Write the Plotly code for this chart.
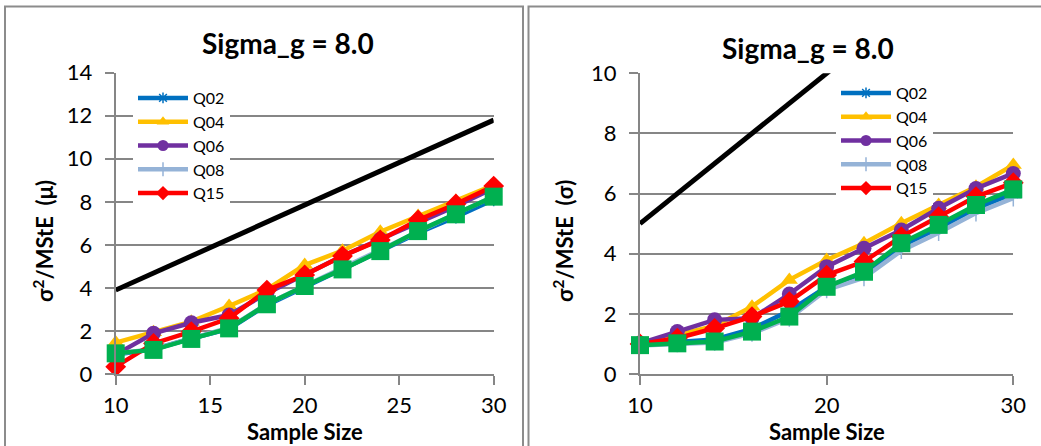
import plotly.graph_objects as go

W, H = 1041, 446

# Sample sizes shared by both panels
sample_size = [10, 12, 14, 16, 18, 20, 22, 24, 26, 28, 30]

# Panel 1: sigma^2 / MStE for the mean (mu)
mu_q02 = [0.90, 1.15, 1.65, 2.10, 3.20, 4.05, 4.85, 5.70, 6.55, 7.30, 8.10]
mu_q04 = [1.46, 1.94, 2.43, 3.16, 3.93, 5.06, 5.73, 6.61, 7.34, 8.04, 8.78]
mu_q06 = [0.90, 1.89, 2.38, 2.74, 3.75, 4.60, 5.48, 6.26, 7.03, 7.80, 8.63]
mu_q08 = [0.95, 1.15, 1.65, 2.15, 3.25, 4.10, 4.90, 5.75, 6.65, 7.45, 8.25]
mu_q15 = [0.34, 1.42, 1.97, 2.59, 3.90, 4.60, 5.48, 6.23, 7.16, 7.90, 8.73]
mu_extra = [0.96, 1.12, 1.63, 2.12, 3.24, 4.09, 4.86, 5.71, 6.64, 7.42, 8.24]
mu_ref = [3.90, 4.69, 5.48, 6.27, 7.06, 7.85, 8.64, 9.43, 10.22, 11.01, 11.80]

# Panel 2: sigma^2 / MStE for the standard deviation (sigma)
sd_q02 = [0.98, 1.05, 1.15, 1.50, 2.10, 2.90, 3.35, 4.25, 4.85, 5.50, 6.00]
sd_q04 = [1.00, 1.30, 1.60, 2.24, 3.13, 3.79, 4.35, 5.01, 5.62, 6.23, 6.95]
sd_q06 = [1.02, 1.41, 1.80, 1.85, 2.66, 3.57, 4.18, 4.79, 5.51, 6.17, 6.67]
sd_q08 = [0.95, 1.00, 1.05, 1.35, 1.85, 2.80, 3.20, 4.10, 4.70, 5.35, 5.85]
sd_q15 = [1.00, 1.19, 1.52, 1.91, 2.41, 3.29, 3.74, 4.57, 5.23, 5.90, 6.36]
sd_extra = [0.96, 1.02, 1.08, 1.41, 1.91, 2.90, 3.40, 4.35, 4.96, 5.62, 6.14]
sd_ref = [5.0, 6.0, 7.0, 8.0, 9.0, 10.0, 11.0, 12.0, 13.0, 14.0, 15.0]

FONT = "Lato"
GRID = "#868686"


def px(x):
    return x / W


def py(y):
    return 1 - y / H


# name, colour, marker symbol, marker size on the plot, marker size in legend
series_style = [
    ("Q02", "#0070C0", "asterisk-open", 11, 9),
    ("Q04", "#FFC000", "triangle-up", 15, 11),
    ("Q06", "#7030A0", "circle", 15, 11),
    ("Q08", "#95B3D7", "cross-thin-open", 12, 10),
    ("Q15", "#FF0000", "diamond", 16, 11),
]

fig = go.Figure()


def marker_for(color, symbol, size):
    open_sym = symbol.endswith("open")
    return dict(symbol=symbol, size=size, color=color,
                line=dict(color=color, width=1.5 if open_sym else 0))


def add_panel(xa, ya, legend, ref, series, extra):
    fig.add_trace(go.Scatter(
        x=sample_size, y=ref, mode="lines", xaxis=xa, yaxis=ya,
        line=dict(color="black", width=5), showlegend=False, hoverinfo="skip"))
    for (name, color, symbol, size, lsize), vals in zip(series_style, series):
        fig.add_trace(go.Scatter(
            x=sample_size, y=vals, mode="lines+markers", name=name,
            xaxis=xa, yaxis=ya, legendgroup=legend + name, showlegend=False,
            line=dict(color=color, width=4.5),
            marker=marker_for(color, symbol, size), cliponaxis=False))
        # legend key with a smaller marker
        fig.add_trace(go.Scatter(
            x=[None], y=[None], mode="lines+markers", name=name,
            xaxis=xa, yaxis=ya, legend=legend, legendgroup=legend + name,
            line=dict(color=color, width=4.5),
            marker=marker_for(color, symbol, lsize)))
    fig.add_trace(go.Scatter(
        x=sample_size, y=extra, mode="lines+markers", xaxis=xa, yaxis=ya,
        line=dict(color="#00B050", width=4.5),
        marker=dict(symbol="square", size=18, color="#00B050"),
        showlegend=False, cliponaxis=False))


add_panel("x", "y", "legend", mu_ref,
          [mu_q02, mu_q04, mu_q06, mu_q08, mu_q15], mu_extra)
add_panel("x2", "y2", "legend2", sd_ref,
          [sd_q02, sd_q04, sd_q06, sd_q08, sd_q15], sd_extra)

tick_font = dict(family=FONT, size=22, color="black")
xcommon = dict(showgrid=False, showline=True, linecolor=GRID, linewidth=2,
               ticks="outside", ticklen=9, tickcolor=GRID, tickwidth=2,
               tickfont=tick_font, zeroline=False, ticklabelstandoff=2,
               automargin=False)
ycommon = dict(showgrid=True, gridcolor=GRID, gridwidth=2, showline=True,
               linecolor=GRID, linewidth=2, ticks="outside", ticklen=9,
               tickcolor=GRID, tickwidth=2, tickfont=tick_font,
               zeroline=False, ticklabelstandoff=8, automargin=False)

legend_common = dict(font=dict(family=FONT, size=16, color="black"),
                     bgcolor="white", borderwidth=0, traceorder="grouped",
                     tracegroupgap=0, itemwidth=50, xanchor="left",
                     yanchor="top", itemclick=False, itemdoubleclick=False)

fig.update_layout(
    template="none",
    width=W, height=H, margin=dict(l=0, r=0, t=0, b=0, autoexpand=False),
    paper_bgcolor="white", plot_bgcolor="white",
    xaxis=dict(domain=[px(115.7), px(493.7)], range=[10, 30], dtick=5,
               anchor="y", **xcommon),
    yaxis=dict(domain=[py(374), py(72.7)], range=[0, 14], dtick=2,
               anchor="x", **ycommon),
    xaxis2=dict(domain=[px(640), px(1013.3)], range=[10, 30], dtick=10,
                anchor="y2", **xcommon),
    yaxis2=dict(domain=[py(374), py(73.3)], range=[0, 10], dtick=2,
                anchor="x2", **ycommon),
    legend=dict(x=px(133), y=py(81), **legend_common),
    legend2=dict(x=px(836), y=py(76), **legend_common),
    showlegend=True,
)

title_font = dict(family=FONT, size=28, color="black", weight="bold")
label_font = dict(family=FONT, size=22, color="black", weight="bold")

annotations = [
    dict(text="Sigma_g = 8.0", x=px(287.5), y=py(43), font=title_font),
    dict(text="Sigma_g = 8.0", x=px(807.5), y=py(48), font=title_font),
    dict(text="Sample Size", x=px(304.7), y=py(431), font=label_font),
    dict(text="Sample Size", x=px(826.6), y=py(431), font=label_font),
    dict(text="σ<sup>2</sup>/MStE  (μ)", x=px(43), y=py(241),
         font=label_font, textangle=-90),
    dict(text="σ<sup>2</sup>/MStE  (σ)", x=px(563), y=py(241),
         font=label_font, textangle=-90),
]
for a in annotations:
    fig.add_annotation(xref="paper", yref="paper", showarrow=False,
                       xanchor="center", yanchor="middle", **a)

# Panel frames
frame = dict(color="#8C8C8C", width=2)
fig.add_shape(type="path", xref="paper", yref="paper",
              path=f"M {px(5)},{py(450)} L {px(5)},{py(6.5)} "
                   f"L {px(523)},{py(6.5)} L {px(523)},{py(450)}",
              line=frame)
fig.add_shape(type="path", xref="paper", yref="paper",
              path=f"M {px(528.5)},{py(450)} L {px(528.5)},{py(6.5)} "
                   f"L {px(1050)},{py(6.5)}",
              line=frame)

fig.write_html("out.html")
